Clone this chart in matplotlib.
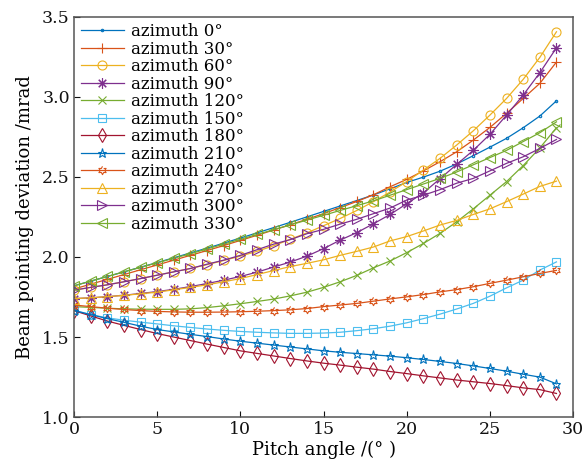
import numpy as np
import matplotlib
matplotlib.use("Agg")
import matplotlib.pyplot as plt

pitch = list(range(30))

az0 = [1.820,1.849,1.878,1.907,1.936,1.965,1.995,2.025,2.055,2.086,2.118,2.150,2.183,2.216,2.250,2.284,2.318,2.352,2.387,2.425,2.465,2.498,2.535,2.580,2.632,2.685,2.740,2.806,2.879,2.974]
az30 = [1.800,1.830,1.860,1.890,1.920,1.950,1.980,2.010,2.040,2.071,2.103,2.135,2.168,2.201,2.235,2.270,2.308,2.346,2.388,2.438,2.484,2.537,2.594,2.656,2.729,2.808,2.896,2.989,3.083,3.216]
az60 = [1.793,1.810,1.826,1.845,1.865,1.886,1.907,1.928,1.952,1.978,2.005,2.035,2.070,2.110,2.150,2.195,2.240,2.290,2.345,2.405,2.470,2.542,2.615,2.698,2.787,2.885,2.989,3.108,3.245,3.405]
az90 = [1.740,1.745,1.752,1.761,1.772,1.784,1.798,1.815,1.834,1.855,1.878,1.905,1.937,1.968,2.005,2.052,2.105,2.152,2.207,2.265,2.332,2.400,2.488,2.577,2.665,2.765,2.885,3.010,3.149,3.305]
az120 = [1.690,1.685,1.680,1.676,1.674,1.673,1.673,1.676,1.684,1.695,1.708,1.722,1.737,1.757,1.780,1.810,1.845,1.885,1.932,1.975,2.027,2.084,2.147,2.219,2.300,2.385,2.470,2.570,2.680,2.806]
az150 = [1.668,1.640,1.620,1.605,1.593,1.582,1.570,1.560,1.550,1.542,1.535,1.530,1.526,1.523,1.523,1.525,1.530,1.540,1.552,1.568,1.589,1.615,1.643,1.675,1.710,1.755,1.807,1.855,1.918,1.969]
az180 = [1.665,1.632,1.600,1.573,1.547,1.522,1.500,1.478,1.456,1.435,1.414,1.398,1.382,1.366,1.351,1.337,1.325,1.312,1.300,1.285,1.272,1.258,1.245,1.232,1.221,1.210,1.197,1.183,1.172,1.148]
az210 = [1.665,1.640,1.615,1.592,1.568,1.547,1.532,1.517,1.503,1.488,1.474,1.462,1.450,1.438,1.426,1.414,1.405,1.397,1.389,1.381,1.371,1.360,1.348,1.335,1.320,1.304,1.287,1.268,1.250,1.208]
az240 = [1.700,1.690,1.680,1.672,1.665,1.660,1.657,1.655,1.655,1.656,1.658,1.661,1.665,1.670,1.678,1.690,1.700,1.710,1.724,1.738,1.751,1.765,1.782,1.796,1.814,1.835,1.855,1.876,1.897,1.916]
az270 = [1.740,1.745,1.752,1.760,1.770,1.780,1.795,1.810,1.826,1.845,1.865,1.890,1.915,1.940,1.960,1.982,2.010,2.035,2.062,2.100,2.127,2.162,2.199,2.228,2.265,2.300,2.345,2.392,2.440,2.473]
az300 = [1.793,1.810,1.826,1.845,1.865,1.886,1.907,1.928,1.955,1.980,2.010,2.045,2.080,2.108,2.145,2.172,2.205,2.235,2.270,2.305,2.355,2.385,2.420,2.460,2.490,2.537,2.584,2.625,2.677,2.733]
az330 = [1.820,1.849,1.878,1.907,1.935,1.963,1.992,2.020,2.050,2.080,2.110,2.140,2.170,2.200,2.230,2.260,2.290,2.320,2.350,2.385,2.420,2.455,2.490,2.530,2.575,2.620,2.665,2.720,2.775,2.843]

labels = ["azimuth 0°", "azimuth 30°", "azimuth 60°", "azimuth 90°", "azimuth 120°",
          "azimuth 150°", "azimuth 180°", "azimuth 210°", "azimuth 240°", "azimuth 270°",
          "azimuth 300°", "azimuth 330°"]
series = [az0, az30, az60, az90, az120, az150, az180, az210, az240, az270, az300, az330]

xticks = [0, 5, 10, 15, 20, 25, 30]
yticks = [1.0, 1.5, 2.0, 2.5, 3.0, 3.5]

# style
mcol = ['#0072BD', '#D95319', '#EDB120', '#7E2F8E', '#77AC30', '#4DBEEE', '#A2142F']
colors = [mcol[i % 7] for i in range(12)]
ang = np.linspace(0, 2 * np.pi, 13)[:-1] + np.pi / 2
rad = np.where(np.arange(12) % 2 == 0, 1.0, 0.55)
hexagram = list(zip(rad * np.cos(ang), rad * np.sin(ang)))
markers = ['.', '+', 'o', (8, 2, 0), 'x', 's', 'd', '*', hexagram, '^', '>', '<']
msizes = [3.5, 7.5, 6.5, 7.5, 5.5, 5.5, 7, 6.5, 6, 6.5, 6.5, 6.5]

plt.rcParams['font.family'] = ['DejaVu Serif']
fig = plt.figure(figsize=(5.83, 4.73), dpi=100)
ax = fig.add_axes([0.127, 0.118, 0.856, 0.847])

for ys, lab, c, m, ms in zip(series, labels, colors, markers, msizes):
    ax.plot(pitch, ys, color=c, marker=m, markersize=ms, markerfacecolor='none',
            markeredgecolor=c, markeredgewidth=0.8, linewidth=0.9, label=lab)

ax.set_xlim(0, 30)
ax.set_ylim(1.0, 3.5)
ax.set_xticks(xticks)
ax.set_yticks(yticks)
ax.set_yticklabels(["%.1f" % v for v in yticks])
ax.tick_params(direction='in', length=4, labelsize=12.5, colors='#111111', pad=3)
for s in ax.spines.values():
    s.set_color('#555555')
    s.set_linewidth(1.1)
ax.set_xlabel("Pitch angle /(° )", fontsize=13, labelpad=2)
ax.set_ylabel("Beam pointing deviation /mrad", fontsize=13, labelpad=6)

leg = ax.legend(loc='upper left', frameon=False, fontsize=12, handlelength=2.6,
                labelspacing=0.03, handletextpad=0.4, borderaxespad=0.1,
                borderpad=0.3)

fig.savefig("out.png", dpi=100)
